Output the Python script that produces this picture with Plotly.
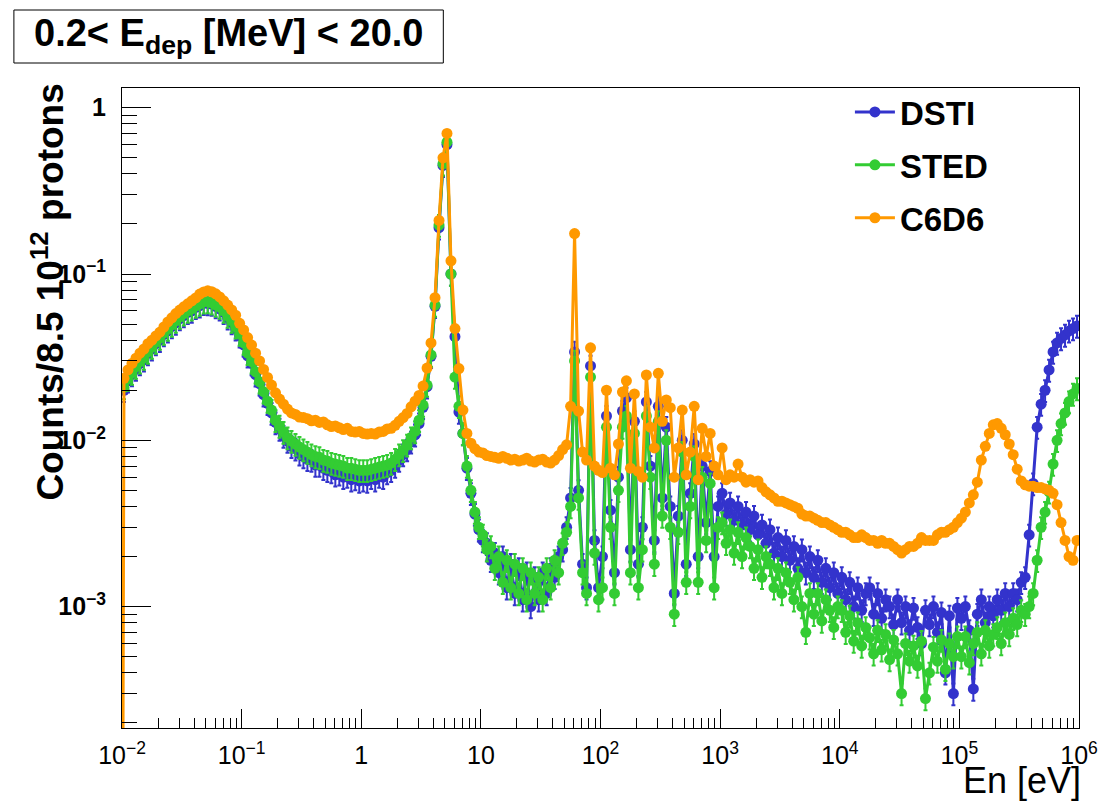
import numpy as np
import plotly.graph_objects as go

# Neutron energy binning: 30 log-spaced bins per decade, 10 meV .. 1 MeV
E_MIN_EXP, E_MAX_EXP, BINS_PER_DECADE = -2, 6, 30
n_bins = (E_MAX_EXP - E_MIN_EXP) * BINS_PER_DECADE
edges = np.logspace(E_MIN_EXP, E_MAX_EXP, n_bins + 1)
energy = np.sqrt(edges[:-1] * edges[1:])

# Counts per 8.5e12 protons, one row per energy decade
dsti = [
    # 0.01 - 0.1 eV
    0.0200, 0.0228, 0.0249, 0.0268, 0.0290, 0.0305, 0.0333, 0.0355, 0.0382, 0.0400,
    0.0433, 0.0455, 0.0484, 0.0508, 0.0540, 0.0562, 0.0588, 0.0600, 0.0630, 0.0645,
    0.0668, 0.0665, 0.0660, 0.0638, 0.0618, 0.0588, 0.0545, 0.0510, 0.0468, 0.0425,
    # 0.1 - 1 eV
    0.0375, 0.0322, 0.0290, 0.0248, 0.0219, 0.0188, 0.0167, 0.0146, 0.0128, 0.0117,
    0.0106, 0.0099, 0.0092, 0.0089, 0.0083, 0.0080, 0.0077, 0.0076, 0.0071, 0.0071,
    0.0068, 0.0066, 0.0065, 0.0062, 0.0063, 0.0060, 0.0061, 0.0058, 0.0059, 0.0057,
    # 1 - 10 eV
    0.0058, 0.0057, 0.0060, 0.0058, 0.0061, 0.0060, 0.0064, 0.0066, 0.0070, 0.0076,
    0.0082, 0.0088, 0.0098, 0.0108, 0.0126, 0.0158, 0.0210, 0.0320, 0.064, 0.19,
    0.45, 0.60, 0.10, 0.042, 0.0148, 0.0110, 0.0068, 0.0048, 0.0036, 0.0029,
    # 10 - 100 eV
    0.0025, 0.0024, 0.0019, 0.0021, 0.0016, 0.0020, 0.0013, 0.0018, 0.0012, 0.0017,
    0.0011, 0.0016, 0.0010, 0.0015, 0.0011, 0.0016, 0.0012, 0.0017, 0.0015, 0.0020,
    0.0022, 0.0030, 0.0045, 0.034, 0.0050, 0.0018, 0.0013, 0.028, 0.0025, 0.0013,
    # 100 eV - 1 keV
    0.0020, 0.014, 0.0038, 0.0016, 0.0060, 0.015, 0.018, 0.0022, 0.013, 0.0018,
    0.0030, 0.017, 0.0070, 0.0025, 0.016, 0.0045, 0.012, 0.0040, 0.0012, 0.0035,
    0.010, 0.0018, 0.0048, 0.0095, 0.0020, 0.0070, 0.0032, 0.0065, 0.0020, 0.0040,
    # 1 - 10 keV
    0.0048, 0.0036, 0.0042, 0.0033, 0.0040, 0.0031, 0.0037, 0.0029, 0.0035, 0.0027,
    0.0031, 0.0024, 0.0029, 0.0021, 0.0026, 0.0020, 0.0025, 0.0019, 0.0023, 0.0017,
    0.0022, 0.0016, 0.0020, 0.0015, 0.0019, 0.0014, 0.0017, 0.0013, 0.0016, 0.0012,
    # 10 - 100 keV
    0.0015, 0.0011, 0.0014, 0.0010, 0.0013, 0.00095, 0.0012, 0.0013, 0.00090, 0.0012,
    0.00085, 0.0011, 0.0010, 0.00078, 0.0011, 0.00080, 0.0010, 0.00072, 0.00098, 0.00075,
    0.00060, 0.00095, 0.00078, 0.00100, 0.00070, 0.00092, 0.00040, 0.00088, 0.00030, 0.00098,
    # 100 keV - 1 MeV
    0.00085, 0.0010, 0.00072, 0.00032, 0.00090, 0.0011, 0.00080, 0.0010, 0.00088, 0.0011,
    0.00095, 0.0012, 0.0010, 0.0012, 0.0011, 0.0014, 0.0015, 0.0027, 0.0055, 0.0120,
    0.0165, 0.0200, 0.0265, 0.0340, 0.0385, 0.0410, 0.0430, 0.0455, 0.0470, 0.0487,
]

sted = [
    # 0.01 - 0.1 eV
    0.0208, 0.0234, 0.0254, 0.0276, 0.0297, 0.0313, 0.0340, 0.0364, 0.0390, 0.0412,
    0.0442, 0.0467, 0.0494, 0.0522, 0.0552, 0.0577, 0.0600, 0.0617, 0.0643, 0.0661,
    0.0681, 0.0683, 0.0671, 0.0652, 0.0634, 0.0600, 0.0559, 0.0522, 0.0481, 0.0436,
    # 0.1 - 1 eV
    0.0385, 0.0334, 0.0297, 0.0258, 0.0225, 0.0196, 0.0172, 0.0152, 0.0132, 0.0122,
    0.0112, 0.0104, 0.0099, 0.0095, 0.0091, 0.0088, 0.0085, 0.0082, 0.0080, 0.0079,
    0.0076, 0.0075, 0.0073, 0.0072, 0.0071, 0.0070, 0.0068, 0.0068, 0.0067, 0.0066,
    # 1 - 10 eV
    0.0066, 0.0066, 0.0067, 0.0068, 0.0069, 0.0070, 0.0071, 0.0073, 0.0077, 0.0082,
    0.0087, 0.0094, 0.0104, 0.0113, 0.0132, 0.0163, 0.0215, 0.0326, 0.065, 0.197,
    0.46, 0.62, 0.10, 0.024, 0.016, 0.011, 0.0070, 0.0050, 0.0037, 0.0030,
    # 10 - 100 eV
    0.0027, 0.0022, 0.0023, 0.0017, 0.0020, 0.0014, 0.0019, 0.0013, 0.0018, 0.0012,
    0.0017, 0.0011, 0.0016, 0.0012, 0.0015, 0.0011, 0.0017, 0.0013, 0.0019, 0.0016,
    0.0024, 0.0028, 0.0040, 0.030, 0.0045, 0.0016, 0.0012, 0.024, 0.0021, 0.0011,
    # 100 eV - 1 keV
    0.0013, 0.012, 0.0030, 0.0012, 0.0050, 0.012, 0.014, 0.0016, 0.011, 0.0013,
    0.0022, 0.014, 0.0060, 0.0018, 0.013, 0.0035, 0.010, 0.0030, 0.0009, 0.0028,
    0.0085, 0.0014, 0.0040, 0.0080, 0.0014, 0.0060, 0.0025, 0.0055, 0.0013, 0.0030,
    # 1 - 10 keV
    0.0032, 0.0024, 0.0029, 0.0021, 0.0028, 0.0020, 0.0026, 0.0023, 0.0017, 0.0022,
    0.0015, 0.0020, 0.0018, 0.0013, 0.0017, 0.0012, 0.0016, 0.0014, 0.0011, 0.0015,
    0.0010, 0.00070, 0.0012, 0.00090, 0.0012, 0.00082, 0.0011, 0.00095, 0.00075, 0.0010,
    # 10 - 100 keV
    0.00095, 0.00070, 0.00088, 0.00062, 0.00080, 0.00058, 0.00075, 0.00065, 0.00052, 0.00072,
    0.00055, 0.00068, 0.00048, 0.00063, 0.00052, 0.00030, 0.00060, 0.00047, 0.00058, 0.00044,
    0.00062, 0.00028, 0.00040, 0.00057, 0.00047, 0.00063, 0.00042, 0.00060, 0.00050, 0.00066,
    # 100 keV - 1 MeV
    0.00050, 0.00066, 0.00046, 0.00060, 0.00070, 0.00052, 0.00072, 0.00058, 0.00068, 0.00075,
    0.00060, 0.00080, 0.00068, 0.00085, 0.00078, 0.00095, 0.00090, 0.0010, 0.0012, 0.0019,
    0.0030, 0.0037, 0.0049, 0.0072, 0.0100, 0.0126, 0.0146, 0.0171, 0.0190, 0.0205,
]

c6d6 = [
    # 0.01 - 0.1 eV
    0.0236, 0.0265, 0.0290, 0.0312, 0.0334, 0.0354, 0.0381, 0.0400, 0.0424, 0.0447,
    0.0480, 0.0515, 0.0545, 0.0578, 0.0607, 0.0635, 0.0662, 0.0690, 0.0718, 0.0757,
    0.0780, 0.0792, 0.0782, 0.0760, 0.0728, 0.0690, 0.0650, 0.0608, 0.0565, 0.0505,
    # 0.1 - 1 eV
    0.0461, 0.0415, 0.0374, 0.0334, 0.0300, 0.0267, 0.0239, 0.0215, 0.0193, 0.0177,
    0.0165, 0.0154, 0.0146, 0.0143, 0.0138, 0.0137, 0.0135, 0.0131, 0.0132, 0.0128,
    0.0129, 0.0124, 0.0121, 0.0122, 0.0119, 0.0116, 0.0118, 0.0113, 0.0112, 0.0113,
    # 1 - 10 eV
    0.0110, 0.0109, 0.0110, 0.0109, 0.0112, 0.0113, 0.0117, 0.0118, 0.0123, 0.0130,
    0.0137, 0.0145, 0.0159, 0.0172, 0.0186, 0.0212, 0.0272, 0.0385, 0.072, 0.21,
    0.50, 0.70, 0.12, 0.047, 0.027, 0.0152, 0.0110, 0.0096, 0.0089, 0.0085,
    # 10 - 100 eV
    0.0084, 0.0081, 0.0080, 0.0079, 0.0078, 0.0080, 0.0078, 0.0076, 0.0077, 0.0075,
    0.0076, 0.0078, 0.0075, 0.0074, 0.0076, 0.0077, 0.0074, 0.0073, 0.0076, 0.0081,
    0.0088, 0.0094, 0.016, 0.175, 0.015, 0.0085, 0.0076, 0.036, 0.0070, 0.0066,
    # 100 eV - 1 keV
    0.0064, 0.020, 0.0068, 0.0062, 0.0095, 0.0195, 0.0228, 0.0068, 0.019, 0.0065,
    0.0060, 0.0247, 0.0120, 0.0090, 0.0253, 0.0130, 0.0175, 0.0157, 0.0060, 0.0090,
    0.0152, 0.0062, 0.0085, 0.0160, 0.0058, 0.0118, 0.0080, 0.0110, 0.0070, 0.0062,
    # 1 - 10 keV
    0.0090, 0.0058, 0.0062, 0.0060, 0.0072, 0.0060, 0.0056, 0.0058, 0.0056, 0.0057,
    0.0052, 0.0049, 0.0047, 0.0045, 0.0043, 0.0043, 0.0042, 0.0041, 0.0040, 0.0039,
    0.0036, 0.0035, 0.0035, 0.0034, 0.0033, 0.0032, 0.0032, 0.0031, 0.0030, 0.0029,
    # 10 - 100 keV
    0.0028, 0.0028, 0.0027, 0.0026, 0.0026, 0.0027, 0.0026, 0.0025, 0.0025, 0.0024,
    0.0025, 0.0024, 0.0024, 0.0023, 0.0022, 0.0021, 0.0022, 0.0023, 0.0023, 0.0024,
    0.0026, 0.0025, 0.0025, 0.0025, 0.0027, 0.0028, 0.0028, 0.0029, 0.0030, 0.0032,
    # 100 keV - 1 MeV
    0.0034, 0.0037, 0.0042, 0.0047, 0.0056, 0.0076, 0.0092, 0.0110, 0.0124, 0.0126,
    0.0118, 0.0108, 0.0095, 0.0082, 0.0067, 0.0057, 0.0054, 0.0053, 0.0053, 0.0052,
    0.0052, 0.0051, 0.0050, 0.0048, 0.0041, 0.0032, 0.0025, 0.0020, 0.0019, 0.0025,
]

# The C6D6 histogram starts with an empty bin at the lower edge
c6d6_low_edge = 1e-6

x_tick_vals = [1e-2, 1e-1, 1, 10, 1e2, 1e3, 1e4, 1e5, 1e6]
x_tick_text = ["10<sup>\u22122</sup>", "10<sup>\u22121</sup>", "1", "10",
               "10<sup>2</sup>", "10<sup>3</sup>", "10<sup>4</sup>",
               "10<sup>5</sup>", "10<sup>6</sup>"]
y_tick_vals = [1e-3, 1e-2, 1e-1, 1]
y_tick_text = ["10<sup>\u22123</sup>", "10<sup>\u22122</sup>", "10<sup>\u22121</sup>", "1"]

FONT = "Liberation Sans"
W, H = 1110, 802
L, R, T, B = 122, 23, 88, 74
PW, PH = W - L - R, H - T - B


def px(x):
    return (x - L) / PW


def py(y):
    return (H - B - y) / PH


def series(name, xs, ys, color, err_pct):
    return go.Scatter(
        x=xs, y=ys, name=name, mode="lines+markers",
        line=dict(color=color, width=3),
        marker=dict(color=color, size=11, symbol="circle"),
        error_y=dict(type="percent", value=err_pct, color=color,
                     thickness=2, width=2),
    )


fig = go.Figure()
fig.add_trace(series("DSTI", energy, dsti, "#3333cc", 15))
fig.add_trace(series("STED", energy, sted, "#33cc33", 15))
fig.add_trace(series("C6D6", np.concatenate([[edges[0]], energy]),
                     [c6d6_low_edge] + c6d6, "#ff9900", 4))

minor_x = [m * 10.0 ** k for k in range(-2, 6) for m in range(2, 10)]
minor_y = [m * 10.0 ** k for k in range(-4, 1) for m in range(2, 10)]

fig.update_xaxes(
    type="log", range=[-2, 6], showgrid=False, zeroline=False,
    showline=True, linecolor="black", linewidth=1, mirror=True,
    ticks="inside", ticklen=19, tickwidth=1, tickcolor="black",
    tickmode="array", tickvals=x_tick_vals, ticktext=x_tick_text,
    tickfont=dict(family=FONT, size=25, color="black"),
    ticklabelstandoff=5,
    minor=dict(ticks="inside", ticklen=10, tickwidth=1, tickcolor="black",
               tickmode="array", tickvals=minor_x, showgrid=False),
)
fig.update_yaxes(
    type="log", range=[-3.730, 0.1185], showgrid=False, zeroline=False,
    showline=True, linecolor="black", linewidth=1, mirror=True,
    ticks="inside", ticklen=29, tickwidth=1, tickcolor="black",
    tickmode="array", tickvals=y_tick_vals, ticktext=y_tick_text,
    tickfont=dict(family=FONT, size=25, color="black", weight="bold"),
    ticklabelstandoff=10,
    minor=dict(ticks="inside", ticklen=15, tickwidth=1, tickcolor="black",
               tickmode="array", tickvals=minor_y, showgrid=False),
)

fig.update_layout(
    width=W, height=H,
    margin=dict(l=L, r=R, t=T, b=B),
    paper_bgcolor="white", plot_bgcolor="white",
    legend=dict(
        x=px(856), y=py(84), xanchor="left", yanchor="top",
        bgcolor="rgba(0,0,0,0)", borderwidth=0,
        font=dict(family=FONT, size=33, color="black", weight="bold"),
        tracegroupgap=7, itemwidth=40, traceorder="grouped",
    ),
)
for i, tr in enumerate(fig.data):
    tr.legendgroup = f"g{i}"

# Energy-deposition window label in a framed box
fig.add_shape(type="rect", xref="paper", yref="paper",
              x0=px(13), x1=px(446), y0=py(63), y1=py(10),
              line=dict(color="black", width=1), fillcolor="white")
fig.add_annotation(
    text="0.2&lt; E<sub>dep</sub> [MeV] &lt; 20.0",
    xref="paper", yref="paper", x=px(229), y=py(36),
    xanchor="center", yanchor="middle", showarrow=False,
    font=dict(family=FONT, size=38, color="black", weight="bold"),
)

# Axis titles
fig.add_annotation(
    text="Counts/8.5 10<sup>12</sup> protons",
    xref="paper", yref="paper", x=px(47), y=py(292),
    xanchor="center", yanchor="middle", textangle=-90, showarrow=False,
    font=dict(family=FONT, size=37, color="black", weight="bold"),
)
fig.add_annotation(
    text="En [eV]", xref="paper", yref="paper", x=px(1091), y=py(780),
    xanchor="right", yanchor="middle", showarrow=False,
    font=dict(family=FONT, size=36, color="black"),
)

fig.write_html("out.html")
